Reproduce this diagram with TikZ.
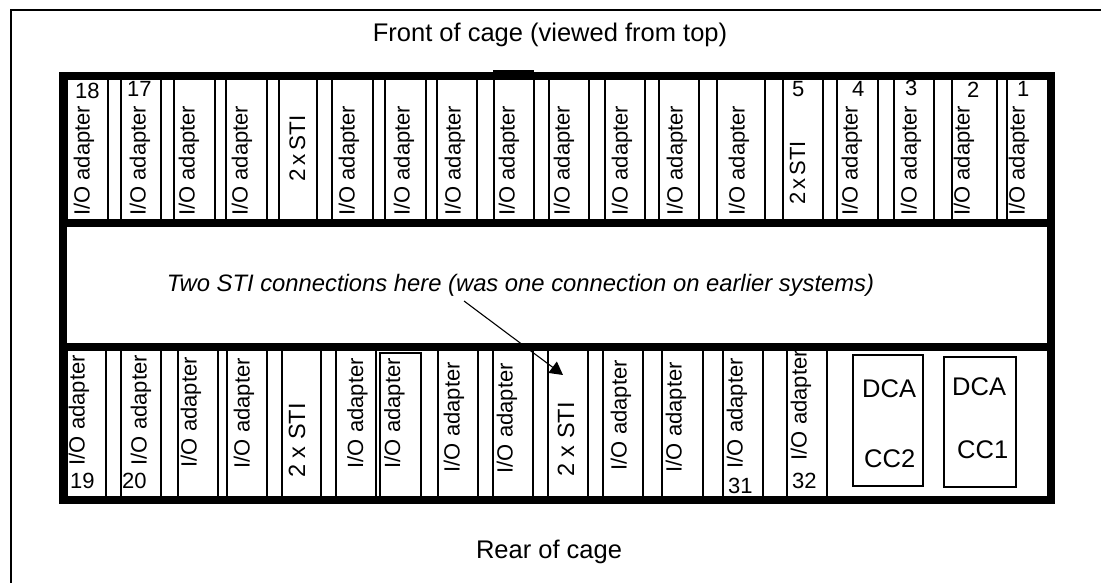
\documentclass[tikz,border=0pt]{standalone}
\usepackage{fontspec}
\setmainfont{Liberation Sans}
\usetikzlibrary{arrows.meta}
\begin{document}
\begin{tikzpicture}[x=1pt,y=-1pt,
  card/.style={draw, line width=1.8pt, inner sep=0pt, rectangle},
  iotext/.style={rotate=90, inner sep=0pt, font=\fontsize{22}{22}\selectfont},
  stitext/.style={rotate=90, inner sep=0pt, font=\fontsize{23.5}{23.5}\selectfont},
  numtext/.style={inner sep=0pt, anchor=base west, font=\fontsize{22}{22}\selectfont},
  bigtext/.style={inner sep=0pt, anchor=base, font=\fontsize{25.5}{25.5}\selectfont},
  dcatext/.style={inner sep=0pt, anchor=base west, font=\fontsize{25.5}{25.5}\selectfont},
  dcabox/.style={draw, line width=1.8pt, inner sep=0pt, rectangle},
  bar/.style={line width=8pt},
  callout/.style={line width=1.1pt, -{Triangle[length=13pt,width=14pt]}}
]
\useasboundingbox (0,0) rectangle (1101,583);
% outer frame (left and top only)
\draw[line width=1.5pt] (11,583) -- (11,10) -- (1101,10);
% titles
\node[bigtext] (title) at (550,42) {Front of cage (viewed from top)};
\node[bigtext] (rear) at (549,558) {Rear of cage};
% top row cards
\foreach \n/\l/\r in {t18/67/108, t17/121/161, t16/174/215, t15/226/267, t14/279/317,
  t13/332/373, t12/385/426, t11/437/477, t10/494/534, t9/549/589, t8/605/645,
  t7/659/699, t6/717/765, t5/783/823, t4/837/878, t3/894/934, t2/952/997, t1/1007/1048}
  \node[card, minimum width={(\r-\l)*1pt}, minimum height=147pt] (\n) at ({(\l+\r)/2},149.5) {};
% bottom row cards
\foreach \n/\l/\r in {b19/67/106, b20/121/161, b21/178/218, b22/227/267, b23/282/321,
  b24/336/376, b26/438/478, b27/493/533, b28/548/588, b29/603/643, b30/662/703,
  b31/723/763, b32/787/827}
  \node[card, minimum width={(\r-\l)*1pt}, minimum height=153pt] (\n) at ({(\l+\r)/2},423.5) {};
\node[card, minimum width=41pt, minimum height=147pt] (b25) at (400.5,426.5) {};
% cage frame
\draw[bar] (63,76) rectangle (1051,500);
\draw[bar] (63,223) -- (1051,223);
\draw[bar] (63,347) -- (1051,347);
\fill (493,70) rectangle (534,74);
% top row texts
\foreach \x [count=\i] in {89.5,145.5,194.5,247.5,354.5,409.5,460.5,514.5,569.5,627.5,682.5,744.5,857.5,916.5,969.5,1024.5}
  \node[iotext, anchor=base west] (tio\i) at (\x,216) {I/O adapter};
\node[stitext, anchor=base west, font=\fontsize{22.5}{22.5}\selectfont] (tsti1) at (305,182) {2\hspace{4pt}x\hspace{4pt}STI};
\node[stitext, anchor=base west, font=\fontsize{22}{22}\selectfont] (tsti2) at (805,205) {2\hspace{3pt}x\hspace{3pt}STI};
\node[numtext] (n18) at (75,99) {18};
\node[numtext] (n17) at (127,97) {17};
\node[numtext] (n5) at (792,97) {5};
\node[numtext] (n4) at (852,97) {4};
\node[numtext] (n3) at (905,96) {3};
\node[numtext] (n2) at (967,98) {2};
\node[numtext] (n1) at (1017,97) {1};
% bottom row texts
\foreach \x/\y [count=\i] in {84.5/355, 146.5/355, 196.5/357, 249.5/358, 363/358, 400/358,
  459.5/362, 512.5/363, 626.5/360, 681.5/362, 742.5/358, 806.5/350}
  \node[iotext, anchor=base east] (bio\i) at (\x,\y) {I/O adapter};
\node[stitext, anchor=base west] (bsti1) at (305,478) {2 x STI};
\node[stitext, anchor=base west] (bsti2) at (574,477) {2 x STI};
\node[numtext] (n19) at (70,488) {19};
\node[numtext] (n20) at (122,488) {20};
\node[numtext] (n31) at (728,493) {31};
\node[numtext] (n32) at (792,488) {32};
% DCA boxes
\node[dcabox, minimum width=70pt, minimum height=131pt] (dca2) at (888,420.5) {};
\node[dcabox, minimum width=72pt, minimum height=130pt] (dca1) at (980,422) {};
\node[dcatext] (dca2a) at (862,397) {DCA};
\node[dcatext] (dca2b) at (864,467) {CC2};
\node[dcatext] (dca1a) at (952,395) {DCA};
\node[dcatext] (dca1b) at (957,458) {CC1};
% callout
\node[inner sep=0pt, anchor=base, font=\itshape\fontsize{23.8}{23.8}\selectfont] (lbl) at (520.5,291)
  {Two STI connections here (was one connection on earlier systems)};
\coordinate (arrS) at (464,301);
\coordinate (arrE) at (563,375);
\draw[callout] (arrS) -- (arrE);
\end{tikzpicture}
\end{document}
